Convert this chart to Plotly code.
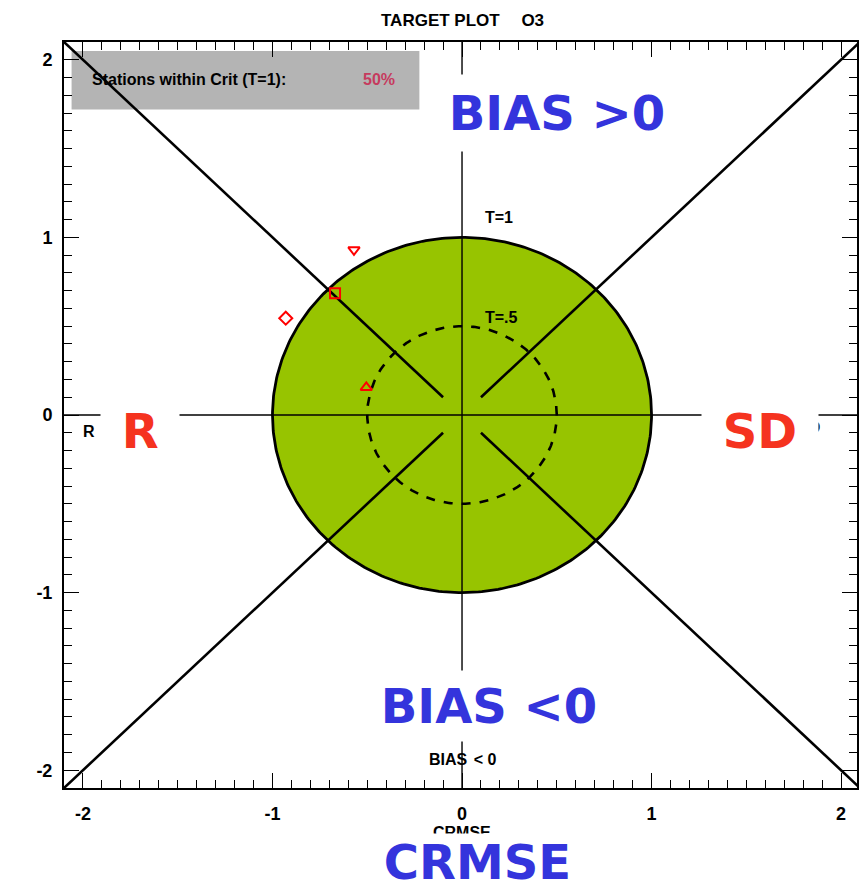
import numpy as np
import plotly.graph_objects as go

# Station scores: normalised CRMSE (x) and BIAS (y)
station_crmse = [-0.57, -0.67, -0.93, -0.505]
station_bias = [0.93, 0.685, 0.545, 0.155]
station_symbols = ["triangle-down-open", "square-open", "diamond-open", "triangle-up-open"]

# Target criteria radii
target_levels = [1.0, 0.5]
target_labels = ["T=1", "T=.5"]
pct_within = "50%"

# Axis ticks
tick_values = [-2, -1, 0, 1, 2]
tick_labels = ["-2", "-1", "0", "1", "2"]

AX = 2.1          # half-width of the diagram
GAP = 0.1         # diagonals stop short of the origin
NARROW = "Liberation Sans Narrow, Arial Narrow, Liberation Sans, Arial"
BIG = "DejaVu Sans, Verdana, sans-serif"
GREEN = "#97C400"
BLUE = "#3434DC"
RED = "#F5331F"

theta = np.linspace(0, 2 * np.pi, 361)

fig = go.Figure()

# Filled T=1 target
r1 = target_levels[0]
fig.add_trace(go.Scatter(x=r1 * np.cos(theta), y=r1 * np.sin(theta), mode="lines",
                         fill="toself", fillcolor=GREEN,
                         line=dict(color="black", width=2.8), hoverinfo="skip"))
# Dashed T=0.5 circle
r2 = target_levels[1]
fig.add_trace(go.Scatter(x=r2 * np.cos(theta), y=r2 * np.sin(theta), mode="lines",
                         line=dict(color="black", width=2.6, dash="dash"), hoverinfo="skip"))

# Quadrant diagonals (broken at the centre)
for sx, sy in [(-1, 1), (1, 1), (-1, -1), (1, -1)]:
    fig.add_trace(go.Scatter(x=[sx * AX, sx * GAP], y=[sy * AX, sy * GAP], mode="lines",
                             line=dict(color="black", width=2.6), hoverinfo="skip"))

# Centre axes
fig.add_trace(go.Scatter(x=[0, 0], y=[-AX, AX], mode="lines",
                         line=dict(color="black", width=1.4), hoverinfo="skip"))
fig.add_trace(go.Scatter(x=[-AX, AX], y=[0, 0], mode="lines",
                         line=dict(color="black", width=1.6), hoverinfo="skip"))

# Stations
fig.add_trace(go.Scatter(x=station_crmse, y=station_bias, mode="markers",
                         marker=dict(symbol=station_symbols, size=10, color="red",
                                     line=dict(color="red", width=2)),
                         hoverinfo="skip"))

# Summary box
fig.add_shape(type="rect", xref="x", yref="y", x0=-2.06, x1=-0.225, y0=1.72, y1=2.05,
              fillcolor="#B4B4B4", line=dict(width=0), layer="below")

ann = []
small = dict(family=NARROW, size=16, color="black", weight="bold")
ann.append(dict(x=-1.965, y=1.89, xref="x", yref="y", text="Stations within Crit (T=1):",
                xanchor="left", showarrow=False, font=small))
ann.append(dict(x=-0.345, y=1.89, xref="x", yref="y", text=pct_within, xanchor="right",
                showarrow=False, font=dict(family=NARROW, size=16, color="#C63B5E", weight="bold")))

# Circle labels
ann.append(dict(x=0.11, y=1.11, xref="x", yref="y", text=target_labels[0], xanchor="left",
                showarrow=False, font=small))
ann.append(dict(x=0.11, y=0.55, xref="x", yref="y", text=target_labels[1], xanchor="left",
                showarrow=False, font=small))

# Quadrant captions of the diagram
ann.append(dict(x=-0.222, y=1.845, xref="x", yref="y", text="BIAS > 0", xanchor="left",
                showarrow=False, font=small))
ann.append(dict(x=0, y=-1.94, xref="x", yref="y",
                text="BIAS\u2009\u2009< 0", showarrow=False, font=small))
ann.append(dict(x=-1.97, y=-0.095, xref="x", yref="y", text="R", showarrow=False, font=small))
ann.append(dict(x=1.9, y=-0.07, xref="x", yref="y", text="SD", xanchor="right",
                showarrow=False, font=small))

# Axis titles and main title
ann.append(dict(x=-2.295, y=0.19, xref="x", yref="y", xanchor="center", text="BIAS",
                showarrow=False, font=small))
ann.append(dict(x=0, y=0, xref="x", yref="paper", yshift=-44, yanchor="middle",
                xanchor="center", text="CRMSE", showarrow=False, font=small))
ann.append(dict(x=0, y=1, xref="x", yref="paper", yshift=22, yanchor="middle", xanchor="center",
                text="TARGET PLOT\u2003 O3",
                showarrow=False, font=dict(family=NARROW, size=17, color="black", weight="bold")))

# Large overlay labels on white backing
big_blue = dict(family=BIG, size=48, color=BLUE, weight="bold")
big_red = dict(family=BIG, size=48, color=RED, weight="bold")
nb = "\u00a0"
ann.append(dict(x=0.5, y=1.70, xref="x", yref="y", text=nb + "BIAS >0" + nb, showarrow=False,
                font=big_blue, bgcolor="white", borderpad=10))
ann.append(dict(x=0.14, y=-1.64, xref="x", yref="y", text=nb + "BIAS <0" + nb, showarrow=False,
                font=big_blue, bgcolor="white", borderpad=7))
ann.append(dict(x=0.084, y=0, xref="x", yref="paper", yshift=-74, yanchor="middle",
                xanchor="center", text=nb + "CRMSE" + nb, showarrow=False, font=big_blue,
                bgcolor="white", borderpad=0))
ann.append(dict(x=-1.7, y=-0.09, xref="x", yref="y", text=nb + "R" + nb, showarrow=False,
                font=big_red, bgcolor="white", borderpad=4))
ann.append(dict(x=1.57, y=-0.09, xref="x", yref="y", text=nb + "SD" + nb, showarrow=False,
                font=big_red, bgcolor="white", borderpad=4))

axis_common = dict(showgrid=False, zeroline=False, showline=True, linecolor="black",
                   linewidth=2, mirror="ticks", ticks="inside", ticklen=15, tickwidth=1.3,
                   tickcolor="black", tickvals=tick_values, ticktext=tick_labels,
                   tickfont=dict(family=NARROW, size=18, color="black", weight="bold"),
                   minor=dict(dtick=0.1, ticks="inside", ticklen=8, tickwidth=1.3,
                              tickcolor="black", showgrid=False))

fig.update_layout(
    width=859, height=887,
    margin=dict(l=64, r=0, t=42, b=99),
    paper_bgcolor="white", plot_bgcolor="white",
    showlegend=False,
    annotations=ann,
    xaxis=dict(range=[-AX, 2.084], ticklabelstandoff=8, **axis_common),
    yaxis=dict(range=[-AX, AX], ticklabelstandoff=6, **axis_common),
)

fig.write_html("out.html")
